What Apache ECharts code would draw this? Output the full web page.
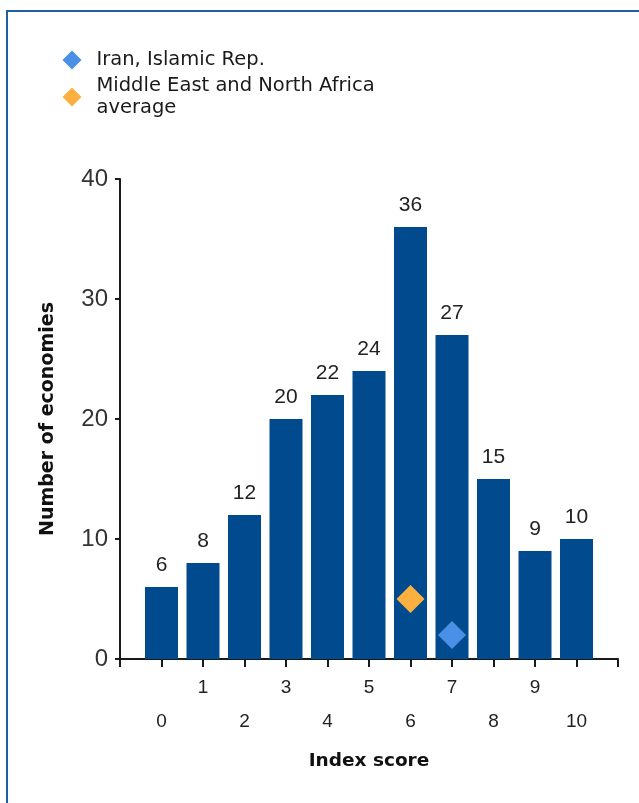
<!DOCTYPE html>
<html>
<head>
<meta charset="utf-8">
<script src="https://cdn.jsdelivr.net/npm/echarts@6/dist/echarts.min.js"></script>
<style>
  html, body { margin: 0; padding: 0; background: #ffffff; overflow: hidden; }
  #chart { position: absolute; left: 0; top: 0; width: 639px; height: 803px; }
  #frame { position: absolute; left: 6px; top: 10px; width: 700px; height: 900px;
           border-left: 2px solid #1f5fa3; border-top: 2px solid #1f5fa3; pointer-events: none; }
</style>
</head>
<body>
<div id="chart"></div>
<div id="frame"></div>
<script>
// ---- data ----
const scores = [0, 1, 2, 3, 4, 5, 6, 7, 8, 9, 10];
const counts = [6, 8, 12, 20, 22, 24, 36, 27, 15, 9, 10];
const iranScore = [7];
const iranValue = [2];
const menaScore = [6];
const menaValue = [5];
const yTicks = [0, 10, 20, 30, 40];
const seriesNames = ['Iran, Islamic Rep.', 'Middle East and North Africa\naverage'];
const axisTitles = { x: 'Index score', y: 'Number of economies' };

const chart = echarts.init(document.getElementById('chart'), null, { renderer: 'canvas' });

const barData = scores.map((s, i) => [s, counts[i]]);
const iranData = iranScore.map((s, i) => [s, iranValue[i]]);
const menaData = menaScore.map((s, i) => [s, menaValue[i]]);

const labelFont = '"Liberation Sans", Arial, sans-serif';
const titleFont = '"DejaVu Sans", Verdana, sans-serif';

const xBase = {
  type: 'value', min: -1, max: 11, interval: 1, position: 'bottom', offset: 0,
  splitLine: { show: false }
};

const option = {
  backgroundColor: '#ffffff',
  animation: false,
  grid: { left: 120, top: 179, width: 498, height: 480, containLabel: false },
  legend: {
    orient: 'vertical', left: 57.5, top: 44, itemGap: 4,
    itemWidth: 19, itemHeight: 19,
    data: [
      { name: seriesNames[0], icon: 'diamond' },
      { name: seriesNames[1], icon: 'diamond' }
    ],
    textStyle: { fontFamily: titleFont, fontSize: 19.5, color: '#1a1a1a', lineHeight: 22, padding: [0, 0, 0, 10] }
  },
  xAxis: [
    Object.assign({}, xBase, {
      axisLine: { show: true, onZero: false, lineStyle: { color: '#1a1a1a', width: 2 } },
      axisTick: { show: true, length: 8, lineStyle: { color: '#1a1a1a', width: 2 } },
      axisLabel: {
        margin: 19.5, fontFamily: labelFont, fontSize: 19, color: '#222',
        formatter: v => (v >= 0 && v <= 10 && v % 2 === 1) ? String(v) : ''
      },
      name: axisTitles.x, nameLocation: 'middle', nameGap: 93,
      nameTextStyle: { fontFamily: titleFont, fontWeight: 'bold', fontSize: 18.5, color: '#111' }
    }),
    Object.assign({}, xBase, {
      axisLine: { show: false, onZero: false }, axisTick: { show: false },
      axisLabel: {
        margin: 53.5, fontFamily: labelFont, fontSize: 19, color: '#222',
        formatter: v => (v >= 0 && v <= 10 && v % 2 === 0) ? String(v) : ''
      }
    })
  ],
  yAxis: {
    type: 'value', min: yTicks[0], max: yTicks[yTicks.length - 1], interval: yTicks[1] - yTicks[0],
    splitLine: { show: false },
    axisLine: { show: true, onZero: false, lineStyle: { color: '#1a1a1a', width: 2 } },
    axisTick: { show: true, length: 5, lineStyle: { color: '#1a1a1a', width: 2 } },
    axisLabel: { margin: 12, fontFamily: labelFont, fontSize: 24, color: '#333' },
    name: axisTitles.y, nameLocation: 'middle', nameGap: 62, nameRotate: 90,
    nameTextStyle: { fontFamily: titleFont, fontWeight: 'bold', fontSize: 19, color: '#111' }
  },
  series: [
    {
      type: 'bar', xAxisIndex: 0, data: barData, barWidth: 33,
      itemStyle: { color: '#004a8d' },
      label: { show: true, position: 'top', distance: 11, fontFamily: labelFont, fontSize: 21, color: '#222',
               formatter: p => String(p.value[1]) },
      z: 2
    },
    {
      name: seriesNames[0], type: 'scatter', xAxisIndex: 0, data: iranData,
      symbol: 'diamond', symbolSize: 28, itemStyle: { color: '#4a90e6', opacity: 1 }, z: 5
    },
    {
      name: seriesNames[1], type: 'scatter', xAxisIndex: 0, data: menaData,
      symbol: 'diamond', symbolSize: 28, itemStyle: { color: '#fbb040', opacity: 1 }, z: 5
    }
  ]
};

chart.setOption(option);
</script>
</body>
</html>
